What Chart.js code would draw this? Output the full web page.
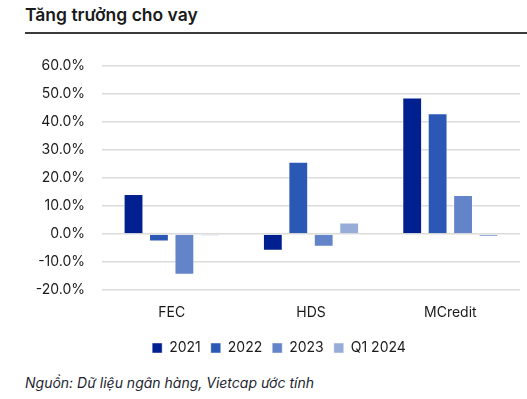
<!DOCTYPE html>
<html>
<head>
<meta charset="utf-8">
<script src="https://cdn.jsdelivr.net/npm/chart.js@4"></script>
<style>
  body { margin: 0; width: 527px; height: 399px; background: #fff; font-family: Inter, "Noto Sans", sans-serif; position: relative; overflow: hidden; }
  .title { position: absolute; left: 25px; top: 4px; font-size: 17.5px; font-weight: 600; color: #1a1a1a; }
  .rule { position: absolute; left: 25px; right: 0; top: 32px; height: 2px; background: #3a3a3a; }
  .wrap { position: absolute; left: 0; top: 40px; width: 527px; height: 325px; }
  .source { position: absolute; left: 25px; top: 374px; font-size: 14px; font-style: italic; color: #1c1f2e; }
</style>
</head>
<body>
<div class="title">Tăng trưởng cho vay</div>
<div class="rule"></div>
<div class="wrap"><canvas id="chart"></canvas></div>
<div class="source">Nguồn: Dữ liệu ngân hàng, Vietcap ước tính</div>
<script>
const companies = ["FEC", "HDS", "MCredit"];
const seriesNames = ["2021", "2022", "2023", "Q1 2024"];
const seriesColors = ["#00208f", "#2b57b5", "#6384c9", "#97add8"];
const growth2021 = [14.2, -6.0, 48.6];
const growth2022 = [-2.7, 25.7, 43.0];
const growth2023 = [-14.5, -4.5, 13.9];
const growthQ1_2024 = [-0.6, 4.1, -1.1];

const allSeries = [growth2021, growth2022, growth2023, growthQ1_2024];

// nudge the legend so it sits where the original one does
const legendShift = {
    id: 'legendShift',
    afterLayout(chart) {
        chart.legend.left += 19;
        chart.legend.right += 19;
    }
};

new Chart(document.getElementById("chart"), {
    type: 'bar',
    data: {
        labels: companies,
        datasets: allSeries.map((vals, i) => ({
            label: seriesNames[i],
            data: vals,
            backgroundColor: seriesColors[i],
            borderColor: 'rgba(255,255,255,0.45)',
            borderWidth: 1,
            categoryPercentage: 0.73,
            barPercentage: 0.78
        }))
    },
    options: {
        responsive: true,
        maintainAspectRatio: false,
        animation: false,
        layout: { padding: { top: 24, right: 7, left: 0, bottom: 0 } },
        plugins: {
            tooltip: { enabled: false },
            legend: {
                position: 'bottom',
                labels: {
                    boxWidth: 10,
                    boxHeight: 10,
                    padding: 10,
                    color: '#1a1a1a',
                    font: { family: 'Inter', size: 14 }
                }
            }
        },
        scales: {
            x: {
                afterFit(axis) { axis.height -= 4; },
                grid: { display: false, drawTicks: false },
                border: { display: false },
                ticks: { color: '#1a1a1a', padding: 14, font: { family: 'Inter', size: 14 } }
            },
            y: {
                min: -20,
                max: 60,
                afterFit(axis) { axis.width = 102; },
                grid: { color: '#dcdcdc', lineWidth: 1.5, drawTicks: false },
                border: { display: false },
                ticks: {
                    stepSize: 10,
                    padding: 17,
                    color: '#1a1a1a',
                    font: { family: 'Inter', size: 14 },
                    callback: v => v.toFixed(1) + '%'
                }
            }
        }
    },
    plugins: [legendShift]
});
</script>
</body>
</html>
